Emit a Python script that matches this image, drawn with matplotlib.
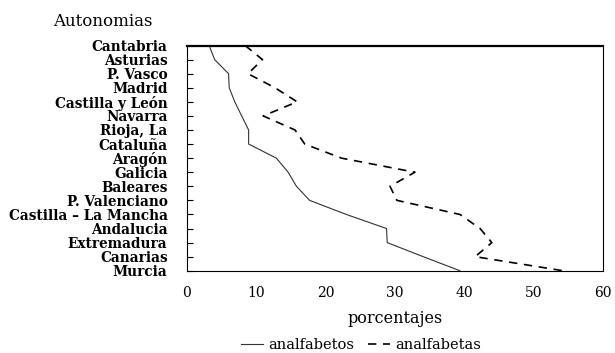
import matplotlib
matplotlib.use("Agg")
import matplotlib.pyplot as plt
import numpy as np

autonomias = ["Cantabria", "Asturias", "P. Vasco", "Madrid", "Castilla y León",
              "Navarra", "Rioja, La", "Cataluña", "Aragón", "Galicia", "Baleares",
              "P. Valenciano", "Castilla – La Mancha", "Andalucia", "Extremadura",
              "Canarias", "Murcia"]
analfabetos = [3.2, 4.0, 6.0, 6.1, 6.9, 7.9, 8.9, 8.9, 12.9, 14.6, 15.8,
               17.7, 23.0, 28.8, 28.9, 34.1, 39.4]
analfabetas = [8.4, 10.9, 8.8, 12.7, 15.9, 11.0, 15.6, 17.0, 22.3, 32.9, 29.3,
               30.3, 39.4, 42.3, 44.0, 41.6, 54.3]
xticks = [0, 10, 20, 30, 40, 50, 60]

plt.rcParams['font.family'] = ['DejaVu Serif']

fig = plt.figure(figsize=(6.15, 3.53), dpi=100)
ax = fig.add_axes([0.304, 0.233, 0.676, 0.638])

pos = np.arange(len(autonomias))
l1, = ax.plot(analfabetos, pos, color="#333333", lw=0.8, label="analfabetos")
l2, = ax.plot(analfabetas, pos, color="black", lw=1.2, dashes=(5, 4), label="analfabetas")

ax.set_ylim(len(autonomias) - 1, 0)
ax.set_xlim(0, 60)
ax.set_yticks(pos)
ax.set_yticklabels(autonomias, fontsize=9.8, fontweight="bold")
ax.set_xticks(xticks)
ax.set_xticklabels([str(t) for t in xticks], fontsize=10)
ax.tick_params(axis="y", direction="in", length=4, width=0.8, pad=14)
ax.tick_params(axis="x", length=0, pad=11)

for s in ["left", "right", "bottom"]:
    ax.spines[s].set_linewidth(0.8)
ax.spines["top"].set_linewidth(1.6)

ax.set_xlabel("porcentajes", fontsize=11.5, labelpad=7)
fig.text(0.086, 0.925, "Autonomias", fontsize=12)

fig.legend(handles=[l1, l2], loc="center", bbox_to_anchor=(0.587, 0.022), ncol=2,
           frameon=False, fontsize=10.5, handlelength=1.5, handletextpad=0.4,
           columnspacing=0.9)

fig.savefig("out.png", dpi=100)
